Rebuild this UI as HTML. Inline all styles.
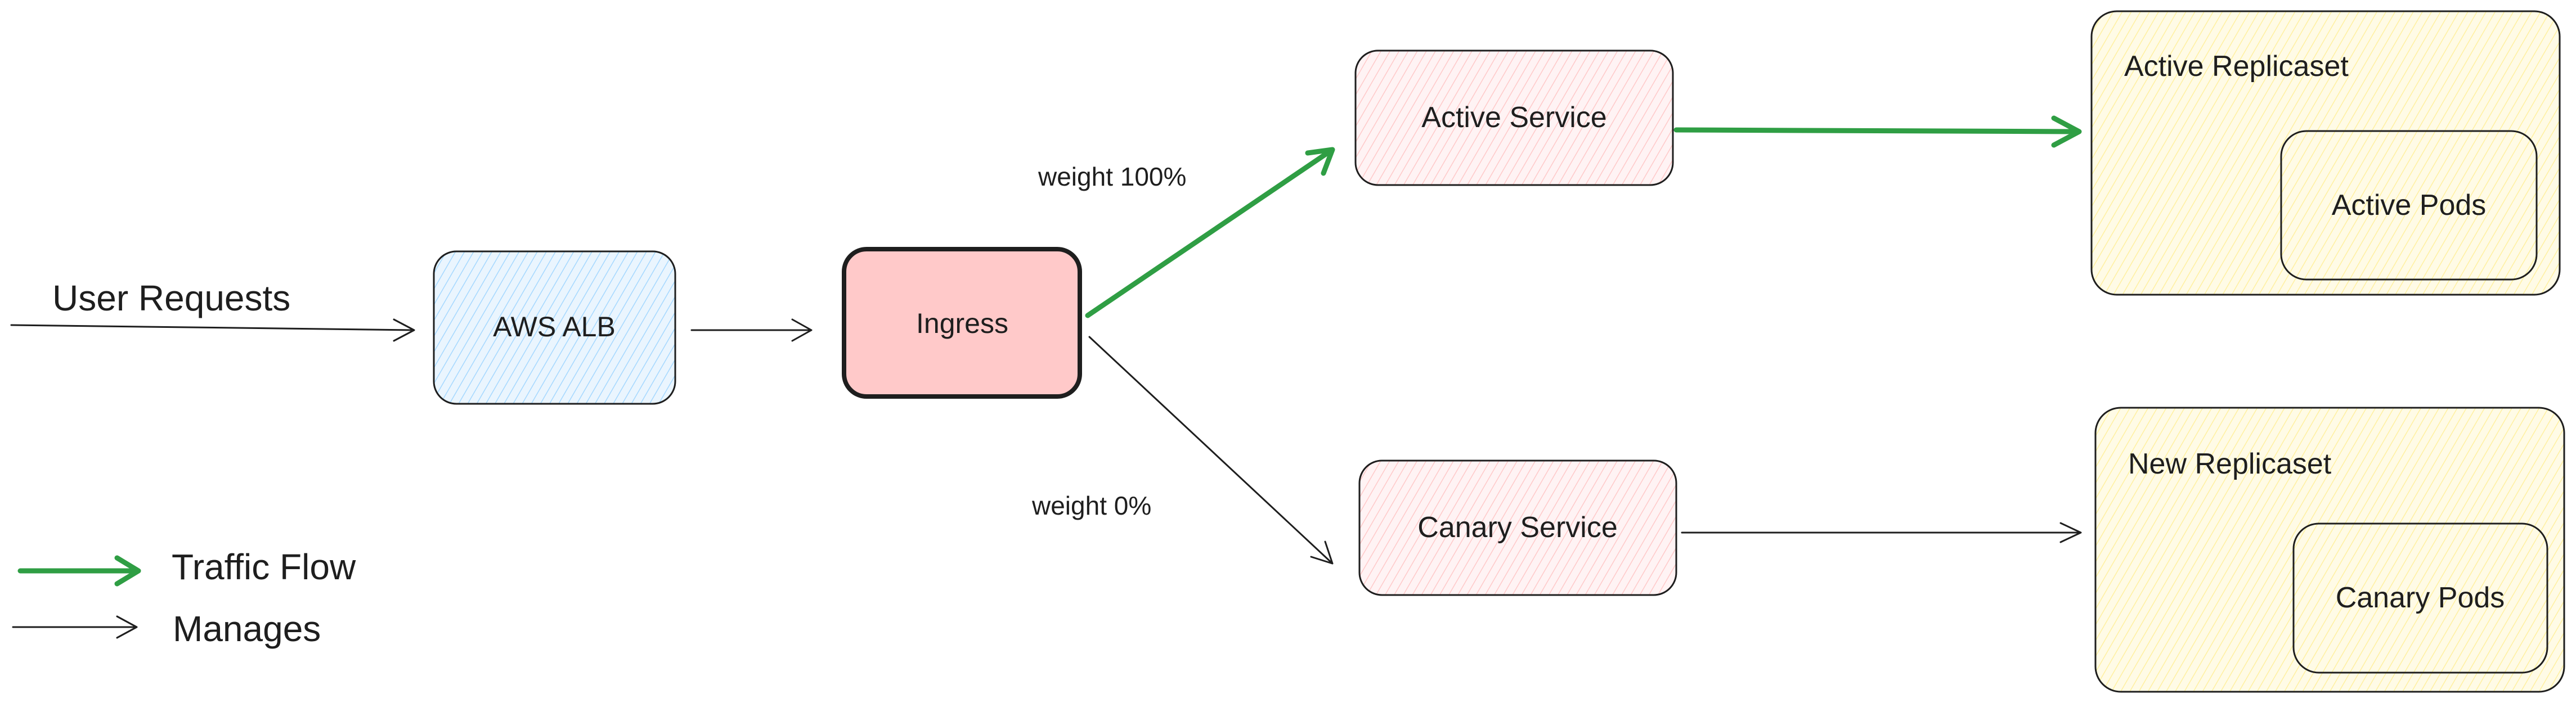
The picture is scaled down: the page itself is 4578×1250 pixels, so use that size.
<!DOCTYPE html>
<html><head><meta charset="utf-8"><style>
html,body{margin:0;padding:0;background:#fff;width:4578px;height:1250px;overflow:hidden}
text{font-family:"Liberation Sans",sans-serif;fill:#1e1e1e}
</style></head><body>
<svg width="4578" height="1250" viewBox="0 0 4578 1250" xmlns="http://www.w3.org/2000/svg">
<defs>
<pattern id="hb" width="14" height="14" patternUnits="userSpaceOnUse" patternTransform="rotate(30)"><rect width="14" height="14" fill="#eaf5fe"/><line x1="0" y1="0" x2="0" y2="14" stroke="#a5d8ff" stroke-width="3"/></pattern>
<pattern id="hp" width="14" height="14" patternUnits="userSpaceOnUse" patternTransform="rotate(30)"><rect width="14" height="14" fill="#fff3f4"/><line x1="0" y1="0" x2="0" y2="14" stroke="#ffc9c9" stroke-width="3"/></pattern>
<pattern id="hy" width="14" height="14" patternUnits="userSpaceOnUse" patternTransform="rotate(30)"><rect width="14" height="14" fill="#fffbe6"/><line x1="0" y1="0" x2="0" y2="14" stroke="#fff0a0" stroke-width="3"/></pattern>
</defs>
<g fill="none" stroke="#1e1e1e" stroke-width="3" stroke-linecap="round" stroke-linejoin="round">
<!-- user requests arrow -->
<path d="M20 578 L736 587 M700 568 L736 587 L700 606"/>
<!-- ALB -> Ingress -->
<path d="M1229 587 L1442 587 M1408 568 L1442 587 L1408 606"/>
<!-- ingress -> canary -->
<path d="M1936 599 L2368 1002 M2355 963 L2368 1002 L2330 990"/>
<!-- canary -> new rs -->
<path d="M2989 947 L3698 947 M3662 930 L3698 947 L3662 964"/>
<!-- legend manages -->
<path d="M23 1115 L243 1115 M208 1096 L243 1115 L208 1134"/>
</g>
<g fill="none" stroke="#2f9e44" stroke-width="9" stroke-linecap="round" stroke-linejoin="round">
<path d="M1933 561 L2368 266 M2324 272 L2368 266 L2352 308"/>
<path d="M2979 231 L3695 234 M3650 210 L3695 234 L3650 258"/>
<path d="M36 1015 L246 1015 M208 992 L246 1015 L208 1038"/>
</g>
<!-- boxes -->
<rect x="771" y="447" width="429" height="271" rx="40" fill="url(#hb)" stroke="#1e1e1e" stroke-width="3"/>
<rect x="1500" y="443" width="419" height="262" rx="40" fill="#ffc9c9" stroke="#1e1e1e" stroke-width="8"/>
<rect x="2409" y="90" width="564" height="239" rx="40" fill="url(#hp)" stroke="#1e1e1e" stroke-width="3"/>
<rect x="2416" y="819" width="563" height="239" rx="40" fill="url(#hp)" stroke="#1e1e1e" stroke-width="3"/>
<rect x="3717" y="20" width="832" height="504" rx="45" fill="url(#hy)" stroke="#1e1e1e" stroke-width="3"/>
<rect x="4054" y="233" width="454" height="264" rx="45" fill="none" stroke="#1e1e1e" stroke-width="3"/>
<rect x="3724" y="725" width="833" height="505" rx="45" fill="url(#hy)" stroke="#1e1e1e" stroke-width="3"/>
<rect x="4076" y="931" width="451" height="265" rx="45" fill="none" stroke="#1e1e1e" stroke-width="3"/>
<!-- labels -->
<text x="93" y="552" font-size="64">User Requests</text>
<text x="985" y="598" font-size="50" text-anchor="middle">AWS ALB</text>
<text x="1710" y="592" font-size="50" text-anchor="middle">Ingress</text>
<text x="2691" y="226" font-size="52" text-anchor="middle">Active Service</text>
<text x="2697" y="955" font-size="52" text-anchor="middle">Canary Service</text>
<text x="1845" y="330" font-size="46">weight 100%</text>
<text x="1834" y="915" font-size="46">weight 0%</text>
<text x="3775" y="135" font-size="52">Active Replicaset</text>
<text x="4281" y="382" font-size="52" text-anchor="middle">Active Pods</text>
<text x="3782" y="842" font-size="52">New Replicaset</text>
<text x="4301" y="1080" font-size="52" text-anchor="middle">Canary Pods</text>
<text x="305" y="1030" font-size="64">Traffic Flow</text>
<text x="307" y="1140" font-size="64">Manages</text>
</svg>
</body></html>
